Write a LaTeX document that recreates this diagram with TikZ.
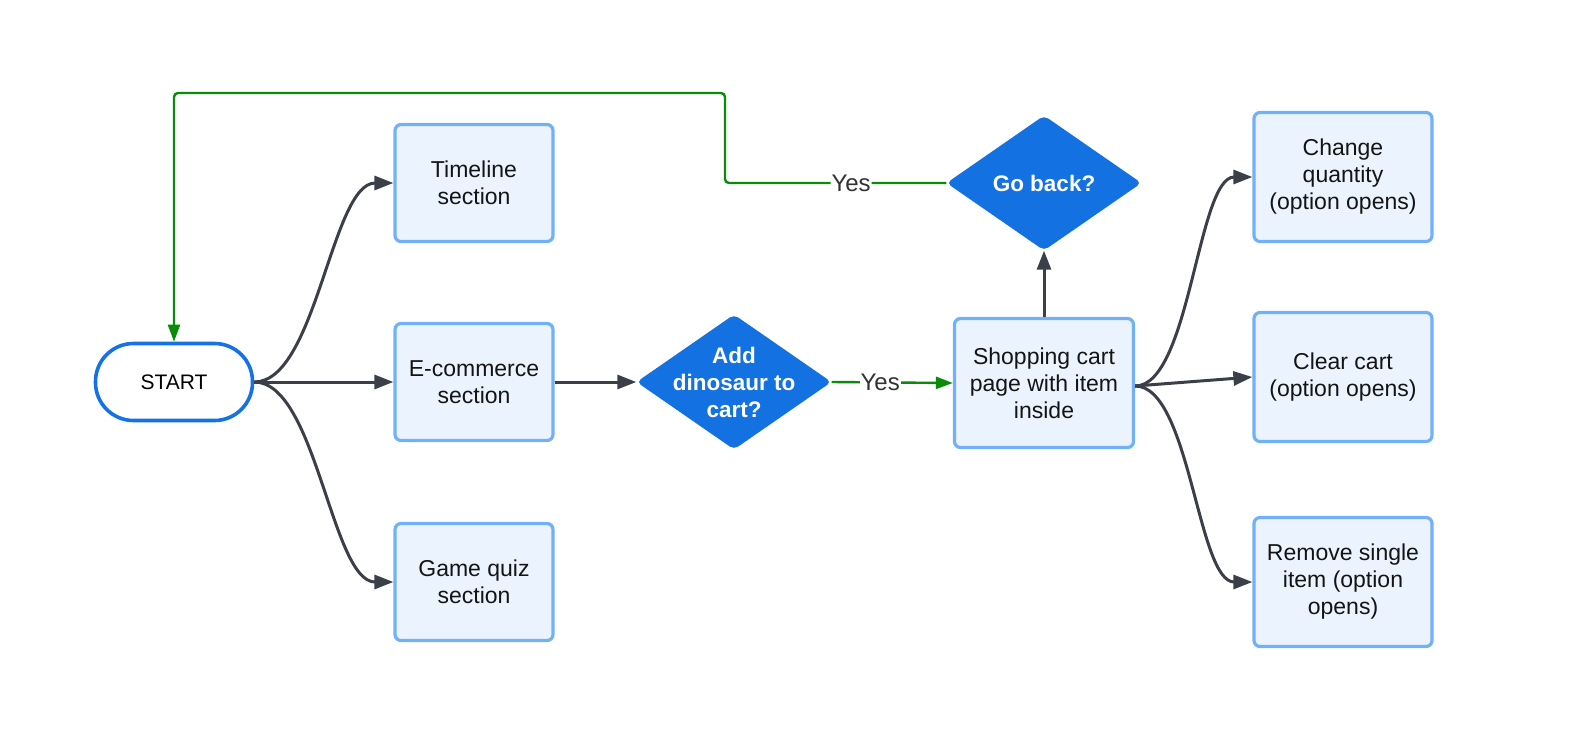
\documentclass[tikz,border=0pt]{standalone}
\usepackage{fontspec}
\setmainfont{Liberation Sans}
\usetikzlibrary{arrows.meta,shapes.geometric}
\definecolor{boxfill}{HTML}{EBF4FE}
\definecolor{boxline}{HTML}{70B1F8}
\definecolor{diafill}{HTML}{1371E2}
\definecolor{startline}{HTML}{1572E5}
\definecolor{arr}{HTML}{3B3F48}
\definecolor{grn}{HTML}{0A8C0A}
\definecolor{lbl}{HTML}{333333}
\begin{document}
\begin{tikzpicture}[x=1pt,y=-1pt,
  box/.style={draw=boxline, fill=boxfill, line width=3.2pt, rounded corners=6pt,
    minimum width=158pt, minimum height=117pt, align=center, inner sep=0pt,
    font=\fontsize{23}{27}\selectfont, text=black!92},
  startbox/.style={draw=startline, fill=white, line width=3.6pt, rounded corners=38pt,
    minimum width=157pt, minimum height=77pt, inner sep=0pt,
    font=\fontsize{21}{25}\selectfont, text=black},
  dia/.style={diamond, fill=diafill, minimum width=195pt, minimum height=135pt,
    inner sep=0pt, rounded corners=5pt},
  diatext/.style={align=center, inner sep=0pt, text=white,
    font=\fontsize{22.5}{27}\selectfont\bfseries},
  darr/.style={draw=arr, line width=3pt, -{Triangle[length=19pt,width=14pt]}},
  garr/.style={draw=grn, line width=2.4pt, -{Triangle[length=17pt,width=12pt]}},
  yeslbl/.style={fill=white, inner sep=1pt, text=lbl, font=\fontsize{24}{28}\selectfont}
]
\path[use as bounding box] (0,0) rectangle (1578,742);

\node[startbox] (start) at (174,382) {START};
\node[box] (tl) at (474,183) {Timeline\\section};
\node[box] (ec) at (474,382) {E-commerce\\section};
\node[box] (gq) at (474,582) {Game quiz\\section};
\node[dia] (add) at (734,382) {};
\node[diatext] (addt) at (add.center) {Add\\dinosaur to\\cart?};
\node[box, minimum width=179pt, minimum height=129pt] (shop) at (1044,383) {Shopping cart\\page with item\\inside};
\node[dia] (go) at (1044,183) {};
\node[diatext] (got) at (go.center) {Go back?};
\node[box, minimum width=178pt, minimum height=129pt] (cq) at (1343,177) {Change\\quantity\\(option opens)};
\node[box, minimum width=178pt, minimum height=129pt] (cc) at (1343,377) {Clear cart\\(option opens)};
\node[box, minimum width=178pt, minimum height=129pt] (rs) at (1343,582) {Remove single\\item (option\\opens)};

% start fan
\draw[darr] (start.east) .. controls +(62,0) and +(-62,0) .. (tl.west);
\draw[darr] (start.east) -- (ec.west);
\draw[darr] (start.east) .. controls +(62,0) and +(-62,0) .. (gq.west);

% e-commerce to add
\draw[darr] (ec.east) -- (add.west);
\draw[garr] (add.east) -- node[yeslbl, pos=0.4] (y1) {Yes} (shop.west);

% shop to go back
\draw[darr] (shop.north) -- (go.south);

% go back loop
\coordinate (c1) at (725,183);
\coordinate (c2) at (725,93);
\coordinate (c3) at (174,93);
\draw[garr, rounded corners=4pt] (go.west) -- node[yeslbl, pos=0.43] (y2) {Yes} (c1) -- (c2) -- (c3) -- (start.north);

% shop fan
\coordinate (sf) at ([yshift=-3pt]shop.east);
\draw[darr] (sf) .. controls +(55,0) and +(-55,0) .. (cq.west);
\draw[darr] (sf) -- (cc.west);
\draw[darr] (sf) .. controls +(55,0) and +(-55,0) .. (rs.west);
\end{tikzpicture}
\end{document}
